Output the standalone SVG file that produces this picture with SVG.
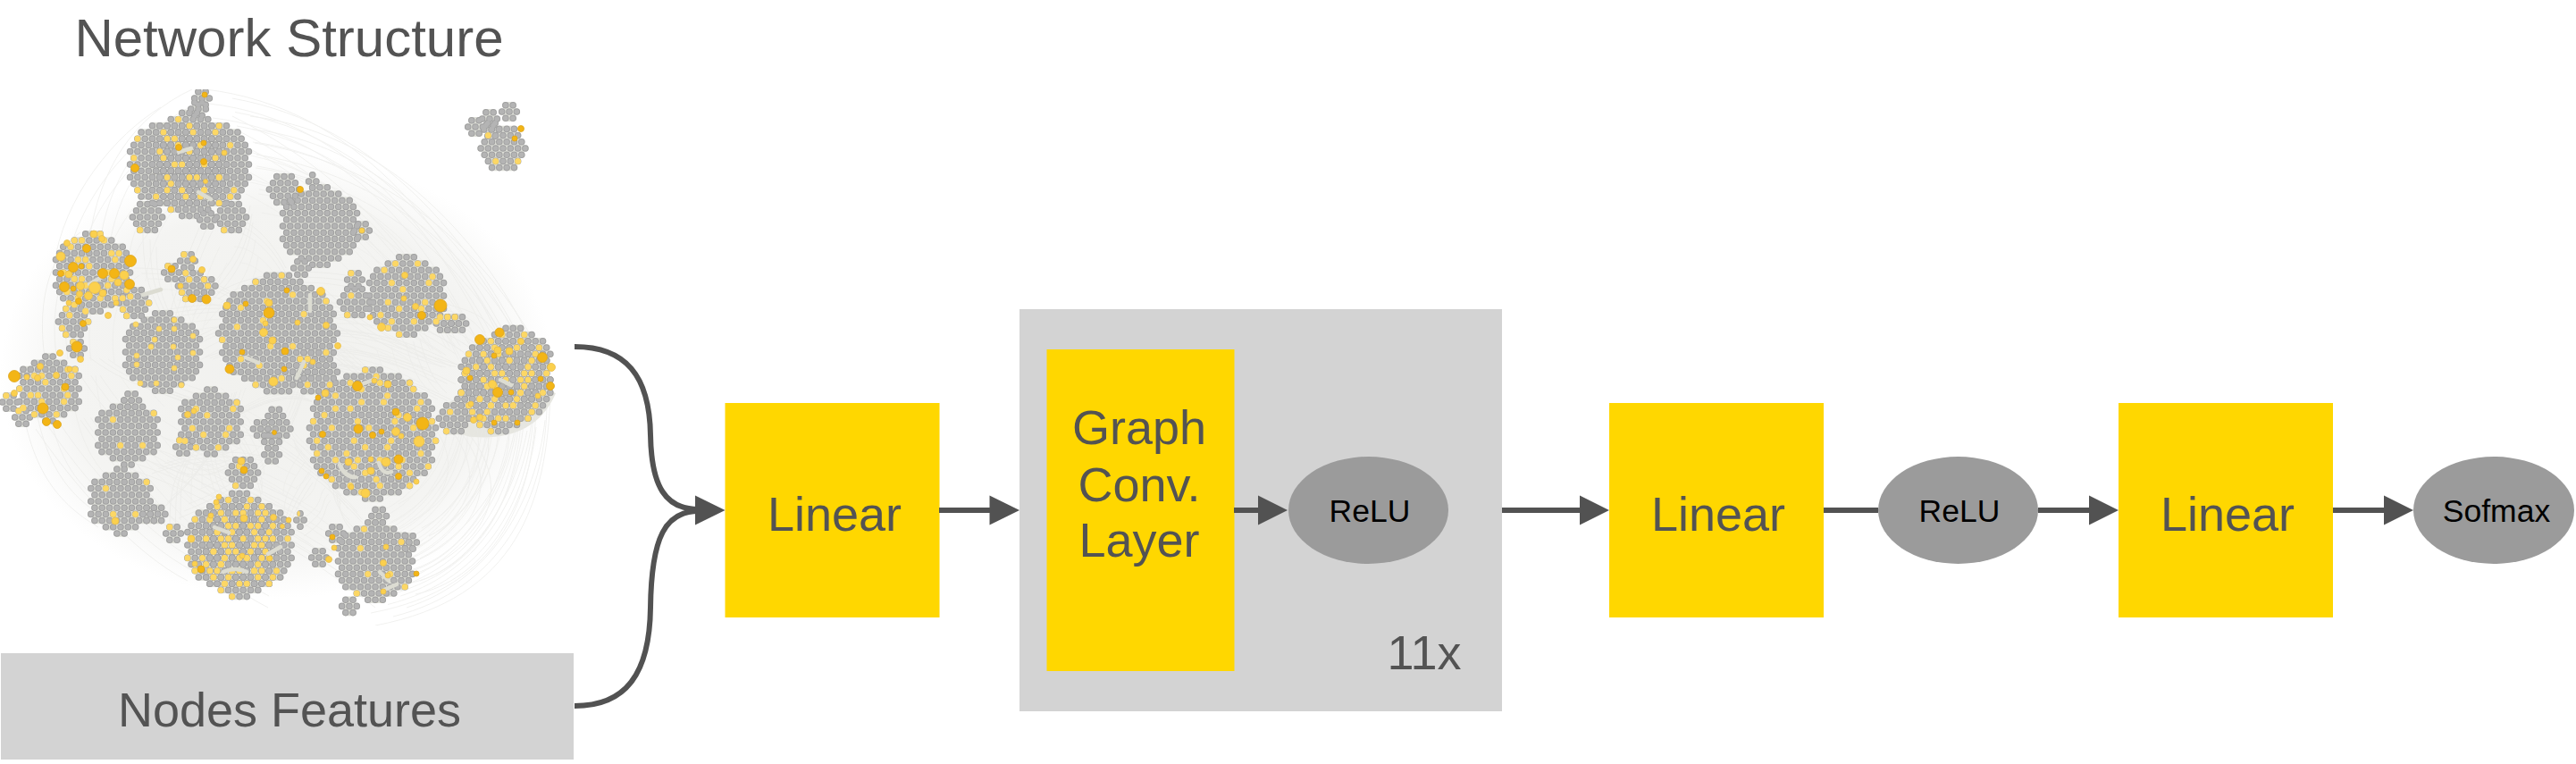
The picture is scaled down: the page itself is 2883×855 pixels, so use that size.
<svg xmlns="http://www.w3.org/2000/svg" width="2883" height="855" viewBox="0 0 2883 855">
<style>
text{font-family:"Liberation Sans",Arial,sans-serif;fill:#535353;text-anchor:middle}
.big{font-size:54px}
.small{font-size:35.5px;fill:#000}
.yellow{fill:#ffd700}
.grey{fill:#d3d3d3}
.oval{fill:#9b9b9b}
.wire{fill:none;stroke:#525252;stroke-width:6}
.head{fill:#525252}
.web{fill:none;stroke:#e8e8e5;stroke-width:1;opacity:.6}
.bg,.rim,.core,.y1,.y2,.y4{fill:none;stroke-linecap:round}
.bg{stroke:#dedfd8;stroke-width:7.4}
.rim{stroke:#a0a0a0;stroke-width:7.6;stroke-dasharray:0 8.3}
.core{stroke:#b4b4b4;stroke-width:5.6;stroke-dasharray:0 8.3}
.y1,.y2,.y4{stroke-width:7;stroke-dasharray:0 8.3}
.y1{stroke:url(#p1)}
.y2{stroke:url(#p2)}
.y4{stroke:url(#p4)}
.wig{fill:none;stroke:#dcdcd2;stroke-width:4.5;stroke-linecap:round}
.l{fill:#fbd04e;stroke:#e6bd50;stroke-width:.8}
.d{fill:#f3b515;stroke:#dca520;stroke-width:.8}
.s{fill:#fdd968;stroke:#e6c766;stroke-width:.7}
</style>
<defs>
<filter id="soft" x="0" y="0" width="1" height="1"><feGaussianBlur stdDeviation=".55"/></filter>
<radialGradient id="fade"><stop offset="0" stop-color="#f1f1ee"/><stop offset=".75" stop-color="#f4f4f2"/><stop offset="1" stop-color="#ffffff"/></radialGradient>
<pattern id="p1" width="132.8" height="115.2" patternUnits="userSpaceOnUse">
<path fill="none" stroke="#fcd765" stroke-width="8" stroke-linecap="round" d="M70.55,7.2h.01M16.6,14.4h.01M124.5,14.4h.01M53.95,21.6h.01M91.3,28.8h.01M33.2,28.8h.01M29.05,36h.01M112.05,36h.01M66.4,43.2h.01M4.15,50.4h.01M41.5,57.6h.01M107.9,57.6h.01M78.85,64.8h.01M16.6,72h.01M120.35,79.2h.01M53.95,79.2h.01M91.3,86.4h.01M29.05,93.6h.01M66.4,100.8h.01M116.2,100.8h.01M87.15,108h.01"/>
</pattern>
<pattern id="p4" width="132.8" height="115.2" patternUnits="userSpaceOnUse" patternTransform="translate(33.2,14.4)">
<path fill="none" stroke="#fcd765" stroke-width="8" stroke-linecap="round" d="M70.55,7.2h.01M16.6,14.4h.01M124.5,14.4h.01M53.95,21.6h.01M91.3,28.8h.01M33.2,28.8h.01M29.05,36h.01M112.05,36h.01M66.4,43.2h.01M4.15,50.4h.01M41.5,57.6h.01M107.9,57.6h.01M78.85,64.8h.01M16.6,72h.01M120.35,79.2h.01M53.95,79.2h.01M91.3,86.4h.01M29.05,93.6h.01M66.4,100.8h.01M116.2,100.8h.01M87.15,108h.01"/>
</pattern>
<pattern id="p2" width="132.8" height="115.2" patternUnits="userSpaceOnUse">
<path fill="none" stroke="#fcd765" stroke-width="8" stroke-linecap="round" d="M70.55,7.2h.01M16.6,14.4h.01M124.5,14.4h.01M53.95,21.6h.01M91.3,28.8h.01M33.2,28.8h.01M29.05,36h.01M112.05,36h.01M66.4,43.2h.01M4.15,50.4h.01M41.5,57.6h.01M107.9,57.6h.01M78.85,64.8h.01M16.6,72h.01M120.35,79.2h.01M53.95,79.2h.01M91.3,86.4h.01M29.05,93.6h.01M66.4,100.8h.01M116.2,100.8h.01M87.15,108h.01M20.75,7.2h.01M112.05,7.2h.01M83,14.4h.01M70.55,21.6h.01M103.75,21.6h.01M8.3,28.8h.01M116.2,28.8h.01M62.25,36h.01M41.5,43.2h.01M124.5,43.2h.01M87.15,50.4h.01M8.3,57.6h.01M66.4,57.6h.01M45.65,64.8h.01M120.35,64.8h.01M91.3,72h.01M12.45,79.2h.01M49.8,86.4h.01M107.9,86.4h.01M78.85,93.6h.01M24.9,100.8h.01M45.65,108h.01M128.65,108h.01"/>
</pattern>
<path id="d4" d="M-4.15,0h8.4M0,-7.2h.1M0,7.2h.1"/>
<path id="d8" d="M-8.3,0h16.7M-4.15,-7.2h8.4M-4.15,7.2h8.4"/>
<path id="d16" d="M-16.6,0h33.3M-12.45,-7.2h25M-12.45,7.2h25M-8.3,-14.4h16.7M-8.3,14.4h16.7"/>
<path id="d24" d="M-24.9,0h49.9M-20.75,-7.2h41.6M-20.75,7.2h41.6M-16.6,-14.4h33.3M-16.6,14.4h33.3M-12.45,-21.6h25M-12.45,21.6h25"/>
<path id="d32" d="M-33.2,0h66.5M-29.05,-7.2h58.2M-29.05,7.2h58.2M-33.2,-14.4h66.5M-33.2,14.4h66.5M-29.05,-21.6h58.2M-29.05,21.6h58.2M-16.6,-28.8h33.3M-16.6,28.8h33.3M-4.15,-36h8.4M-4.15,36h8.4"/>
<path id="d40" d="M-41.5,0h83.1M-37.35,-7.2h74.8M-37.35,7.2h74.8M-41.5,-14.4h83.1M-41.5,14.4h83.1M-37.35,-21.6h74.8M-37.35,21.6h74.8M-33.2,-28.8h66.5M-33.2,28.8h66.5M-20.75,-36h41.6M-20.75,36h41.6M-8.3,-43.2h16.7M-8.3,43.2h16.7"/>
<path id="d48" d="M-49.8,0h99.7M-45.65,-7.2h91.4M-45.65,7.2h91.4M-49.8,-14.4h99.7M-49.8,14.4h99.7M-45.65,-21.6h91.4M-45.65,21.6h91.4M-41.5,-28.8h83.1M-41.5,28.8h83.1M-37.35,-36h74.8M-37.35,36h74.8M-24.9,-43.2h49.9M-24.9,43.2h49.9"/>
<path id="d64" d="M-66.4,0h132.9M-62.25,-7.2h124.6M-62.25,7.2h124.6M-58.1,-14.4h116.3M-58.1,14.4h116.3M-62.25,-21.6h124.6M-62.25,21.6h124.6M-58.1,-28.8h116.3M-58.1,28.8h116.3M-53.95,-36h108M-53.95,36h108M-49.8,-43.2h99.7M-49.8,43.2h99.7M-37.35,-50.4h74.8M-37.35,50.4h74.8M-24.9,-57.6h49.9M-24.9,57.6h49.9M-12.45,-64.8h25M-12.45,64.8h25"/>
<path id="d72" d="M-66.4,0h132.9M-70.55,-7.2h141.2M-70.55,7.2h141.2M-66.4,-14.4h132.9M-66.4,14.4h132.9M-62.25,-21.6h124.6M-62.25,21.6h124.6M-66.4,-28.8h132.9M-66.4,28.8h132.9M-62.25,-36h124.6M-62.25,36h124.6M-58.1,-43.2h116.3M-58.1,43.2h116.3M-45.65,-50.4h91.4M-45.65,50.4h91.4M-41.5,-57.6h83.1M-41.5,57.6h83.1M-29.05,-64.8h58.2M-29.05,64.8h58.2M-8.3,-72h16.7M-8.3,72h16.7"/>
<g id="gp0">
<use href="#d40" x="358" y="253"/><use href="#d16" x="318" y="212"/><use href="#d8" x="405" y="258"/><use href="#d8" x="337" y="300"/><use href="#d4" x="349.7" y="203"/>
<use href="#d40" x="182" y="394"/>
</g>
<g id="gp1">
<use href="#d48" x="195.4" y="184"/><use href="#d48" x="228.6" y="184"/><use href="#d40" x="212" y="169.6"/><use href="#d40" x="212" y="198.4"/><use href="#d8" x="226" y="110"/><use href="#d8" x="222" y="122"/><use href="#d16" x="165" y="243"/><use href="#d16" x="259" y="243"/><use href="#d8" x="232" y="246"/>
<use href="#d24" x="563" y="166"/><use href="#d8" x="548" y="133"/><use href="#d8" x="570" y="125"/><use href="#d8" x="532" y="142"/><use href="#d8" x="550" y="145"/>
<use href="#d64" x="311" y="373"/><use href="#d24" x="352.5" y="416.2"/>
<use href="#d32" x="143" y="484"/><use href="#d8" x="147.15" y="448"/>
<use href="#d32" x="135" y="561"/><use href="#d8" x="168.2" y="575.4"/><use href="#d8" x="176.5" y="575.4"/>
<use href="#d40" x="420" y="628"/><use href="#d8" x="424.15" y="577.6"/><use href="#d8" x="390.95" y="678.4"/><use href="#d8" x="376" y="597"/><use href="#d8" x="357" y="624"/><use href="#d8" x="458" y="607"/>
<use href="#d8" x="300" y="480"/><use href="#d8" x="316.6" y="480"/><use href="#d8" x="308.3" y="465.6"/><use href="#d8" x="304.15" y="494.4"/><use href="#d8" x="304.15" y="508.8"/><use href="#d8" x="291.7" y="480"/>
</g>
<g id="gp2">
<use href="#d40" x="455" y="331"/><use href="#d16" x="397" y="338"/><use href="#d8" x="397" y="313"/><use href="#d8" x="505" y="362"/><use href="#d8" x="496.7" y="362"/><use href="#d8" x="513.3" y="362"/>
<use href="#d48" x="566" y="425"/><use href="#d40" x="557.7" y="439.4"/><use href="#d40" x="574.3" y="410.6"/><use href="#d16" x="507.9" y="468.2"/><use href="#d8" x="520.3" y="446.6"/>
<use href="#d72" x="417" y="486"/>
<use href="#d32" x="236" y="472"/><use href="#d8" x="205" y="500"/>
<use href="#d48" x="259.7" y="610"/><use href="#d48" x="276.3" y="610"/><use href="#d40" x="268" y="595.6"/><use href="#d40" x="268" y="624.4"/><use href="#d16" x="272" y="529"/><use href="#d8" x="194" y="597"/><use href="#d4" x="336" y="582"/>
</g>
<g id="gp3">
<use href="#d40" x="104" y="305"/><use href="#d16" x="150" y="339"/><use href="#d16" x="82" y="360"/>
<use href="#d32" x="55" y="435"/><use href="#d8" x="11" y="450"/><use href="#d8" x="25" y="467"/><use href="#d8" x="86" y="390"/>
<use href="#d16" x="216" y="320"/><use href="#d8" x="210" y="292"/><use href="#d8" x="192" y="305"/><use href="#d8" x="232.6" y="320"/>
</g>
<g id="all"><use href="#gp0"/><use href="#gp1"/><use href="#gp2"/><use href="#gp3"/></g>
<path id="webp" d="M520,480C590,560 520,620 470,640M590,482C575,560 530,630 470,650M600,478C590,570 540,650 465,665M610,470C600,560 550,650 455,680M570,484C570,540 520,600 470,625M545,482C555,530 520,580 480,600M612,455C610,560 560,660 440,690M616,440C612,560 580,670 420,700M505,470C460,500 400,380 320,370M510,450C450,420 400,400 260,400M510,430C450,400 400,380 250,390M515,410C440,370 360,350 230,400M520,395C440,340 340,300 180,400M525,385C470,300 400,200 260,130M555,370C500,260 400,120 230,100M580,375C530,280 430,140 260,110M600,395C560,300 450,150 280,130M615,415C570,320 470,190 285,160M100,270C110,190 150,130 215,100M60,300C70,220 130,150 180,120M50,400C40,330 60,280 90,260M20,420C30,520 60,560 110,590M40,480C80,540 150,620 210,650M90,470C140,540 220,640 300,680M110,480C150,510 250,560 380,640M130,520C200,540 320,600 420,680M180,440C260,470 350,520 410,590M220,440C270,480 300,560 290,560M260,440C240,500 220,540 180,570M340,440C320,500 300,540 200,580M200,510C250,540 280,550 340,580M150,300C240,300 300,340 340,420M170,350C260,330 340,340 420,420M240,330C300,290 420,300 470,340M290,380C350,340 460,330 540,390M280,230C270,300 230,320 210,350M320,300C300,260 270,240 250,240M230,240C210,280 200,320 190,350M160,260C160,310 170,330 180,350M100,400C140,430 180,440 210,450M90,420C110,450 120,460 130,470M180,520C200,530 230,540 260,520M230,510C240,560 250,580 270,560M350,540C330,570 320,590 320,610M380,560C380,580 390,590 400,600M500,340C530,350 540,350 560,380M470,380C480,420 490,430 500,440M360,320C420,380 480,400 520,410M240,480C290,450 320,440 350,450M330,500C340,520 360,530 390,570M170,530C200,520 240,510 290,520M190,600C190,560 190,540 210,510M340,600C370,580 360,570 370,560"/>
</defs>
<rect width="2883" height="855" fill="#ffffff"/>
<g id="network">
<g filter="url(#soft)">
<ellipse cx="310" cy="420" rx="310" ry="250" fill="url(#fade)"/>
<path fill="#e6e6e0" d="M503,450C497,470 505,487 530,489C570,492 605,480 622,440L560,420Z"/>
<g class="web">
<use href="#webp"/>
<use href="#webp" transform="translate(31,42) scale(.9)"/>
<use href="#webp" transform="translate(62,84) scale(.8)"/>
<use href="#webp" transform="translate(93,126) scale(.7)"/>
<use href="#webp" transform="translate(16,21) scale(.95)"/>
</g>
<use href="#all" class="bg"/>
<use href="#all" class="rim"/>
<use href="#all" class="core"/>
<use href="#gp1" class="y1"/>
<use href="#gp2" class="y2"/>
<use href="#gp3" class="y2"/>
<use href="#gp3" class="y4"/>
<path class="wig" d="M347,330v18M340,405l-8,18M275,400l14,6M380,520q6,14 18,14M424,518q4,14 14,10M400,432l20,-8M250,640q14,-6 26,0M240,590l16,6M300,620l14,-8M200,170l14,-4M222,215l14,8M425,640l10,10M430,660l14,-6M160,330l20,-6M100,318l14,-8M560,425l12,6"/>
<g class="s">
<circle cx="178" cy="368" r="3"/><circle cx="173" cy="380" r="3"/><circle cx="152" cy="363" r="3"/><circle cx="153" cy="398" r="3"/><circle cx="153" cy="408" r="3"/><circle cx="195" cy="358" r="3"/><circle cx="195" cy="368" r="3"/><circle cx="216" cy="376" r="3"/><circle cx="216" cy="395" r="3"/><circle cx="199" cy="400" r="3"/><circle cx="195" cy="412" r="3"/><circle cx="157" cy="429" r="3"/><circle cx="175" cy="429" r="3"/><circle cx="203" cy="431" r="3"/><circle cx="194" cy="388" r="3"/><circle cx="169" cy="388" r="3"/>
</g>
<g class="l">
<circle cx="617" cy="411" r="4.5"/><circle cx="551" cy="430" r="4.5"/><circle cx="522" cy="415" r="4"/><circle cx="570" cy="393" r="4"/><circle cx="557" cy="392" r="4"/><circle cx="583" cy="382" r="3.5"/><circle cx="602" cy="443" r="3"/><circle cx="530" cy="470" r="3.5"/><circle cx="537" cy="467" r="3.5"/><circle cx="527" cy="452" r="3"/>
<circle cx="469" cy="494" r="6"/><circle cx="432" cy="517" r="5"/><circle cx="443" cy="483" r="4.5"/><circle cx="456" cy="467" r="4.5"/><circle cx="364" cy="440" r="4"/><circle cx="409" cy="552" r="5"/><circle cx="390" cy="517" r="4"/><circle cx="415" cy="527" r="4"/><circle cx="434" cy="430" r="4"/><circle cx="419" cy="426" r="3"/><circle cx="393" cy="545" r="3"/><circle cx="466" cy="539" r="3"/><circle cx="449" cy="488" r="3"/><circle cx="415" cy="514" r="3"/>
<circle cx="301" cy="339" r="4"/><circle cx="295" cy="372" r="4.5"/><circle cx="305" cy="381" r="4"/><circle cx="306" cy="427" r="5"/><circle cx="254" cy="342" r="4"/><circle cx="359" cy="326" r="4.5"/><circle cx="365" cy="364" r="3.5"/><circle cx="333" cy="361" r="3"/><circle cx="378" cy="387" r="3.5"/><circle cx="350" cy="405" r="3"/><circle cx="297" cy="362" r="3"/>
<circle cx="465" cy="343" r="3.5"/><circle cx="427" cy="366" r="4.5"/><circle cx="453" cy="308" r="3.5"/><circle cx="414" cy="355" r="3"/><circle cx="452" cy="334" r="3"/>
<circle cx="68" cy="287" r="5"/><circle cx="77" cy="307" r="4"/><circle cx="106" cy="322" r="6.5"/><circle cx="90" cy="320" r="4.5"/><circle cx="139" cy="308" r="5"/><circle cx="132" cy="316" r="4"/><circle cx="105" cy="262" r="4"/><circle cx="99" cy="331" r="4.5"/><circle cx="115" cy="328" r="4"/><circle cx="89" cy="329" r="3.5"/><circle cx="77" cy="339" r="3"/><circle cx="121" cy="353" r="3.5"/><circle cx="130" cy="339" r="3"/><circle cx="75" cy="272" r="3.5"/><circle cx="114" cy="267" r="3.5"/>
<circle cx="42" cy="423" r="3.5"/><circle cx="63" cy="420" r="3.5"/><circle cx="90" cy="402" r="3.5"/><circle cx="67" cy="395" r="3.5"/><circle cx="45" cy="410" r="3.5"/><circle cx="16" cy="440" r="3.5"/><circle cx="30" cy="422" r="3"/><circle cx="78" cy="413" r="3"/>
<circle cx="202" cy="320" r="3"/><circle cx="226" cy="302" r="3.5"/><circle cx="216" cy="290" r="3.5"/><circle cx="251" cy="171" r="3"/><circle cx="230" cy="203" r="2.5"/><circle cx="210" cy="464" r="3.5"/><circle cx="217" cy="460" r="3"/><circle cx="270" cy="516" r="4"/>
<circle cx="214" cy="603" r="4"/><circle cx="273" cy="580" r="4"/><circle cx="306" cy="579" r="3.5"/><circle cx="129" cy="583" r="4"/><circle cx="374" cy="613" r="3"/><circle cx="368" cy="626" r="3.5"/><circle cx="429" cy="630" r="3.5"/><circle cx="434" cy="644" r="3"/><circle cx="432" cy="612" r="3"/><circle cx="429" cy="662" r="3"/><circle cx="271" cy="622" r="3"/><circle cx="218" cy="631" r="3"/><circle cx="302" cy="625" r="3"/><circle cx="323" cy="582" r="3"/><circle cx="316" cy="589" r="2.5"/><circle cx="242" cy="562" r="3"/><circle cx="245" cy="556" r="3"/><circle cx="236" cy="577" r="3"/><circle cx="405" cy="258" r="3"/>
</g>
<g class="d">
<circle cx="537" cy="380" r="5.5"/><circle cx="559" cy="372" r="5"/><circle cx="607" cy="400" r="5.5"/><circle cx="616" cy="432" r="4.5"/><circle cx="557" cy="439" r="5.5"/><circle cx="526" cy="423" r="3"/><circle cx="553" cy="398" r="3"/><circle cx="605" cy="424" r="3"/><circle cx="579" cy="473" r="3"/><circle cx="572" cy="439" r="3"/><circle cx="553" cy="473" r="3"/>
<circle cx="473" cy="474" r="7"/><circle cx="446" cy="514" r="5"/><circle cx="443" cy="461" r="4"/><circle cx="401" cy="480" r="5"/><circle cx="400" cy="432" r="5.5"/><circle cx="361" cy="486" r="3.5"/><circle cx="446" cy="533" r="3.5"/><circle cx="360" cy="527" r="3"/><circle cx="427" cy="483" r="3"/><circle cx="417" cy="487" r="3.5"/><circle cx="356" cy="445" r="3"/><circle cx="365" cy="533" r="3"/>
<circle cx="301" cy="350" r="6"/><circle cx="319" cy="393" r="4"/><circle cx="257" cy="413" r="5"/><circle cx="271" cy="394" r="3"/><circle cx="275" cy="340" r="3"/><circle cx="318" cy="413" r="3"/><circle cx="321" cy="325" r="3"/>
<circle cx="493" cy="342" r="7"/><circle cx="472" cy="353" r="4.5"/><circle cx="307" cy="484" r="2.5"/><circle cx="273" cy="526" r="4"/>
<circle cx="82" cy="299" r="5.5"/><circle cx="68" cy="306" r="3.5"/><circle cx="72" cy="321" r="5.5"/><circle cx="115" cy="306" r="5.5"/><circle cx="128" cy="306" r="5.5"/><circle cx="146" cy="292" r="6.5"/><circle cx="145" cy="318" r="5.5"/><circle cx="97" cy="278" r="4.5"/><circle cx="88" cy="337" r="3.5"/><circle cx="82" cy="323" r="3"/><circle cx="91" cy="298" r="3"/><circle cx="93" cy="362" r="3.5"/>
<circle cx="16" cy="421" r="6.5"/><circle cx="86" cy="388" r="6"/><circle cx="48" cy="457" r="6"/><circle cx="52" cy="472" r="4.5"/><circle cx="64" cy="475" r="4.5"/><circle cx="73" cy="433" r="4"/>
<circle cx="151" cy="188" r="4.5"/><circle cx="200" cy="165" r="3.5"/><circle cx="228" cy="181" r="3.5"/><circle cx="228" cy="160" r="3"/><circle cx="583" cy="144" r="3.5"/><circle cx="576" cy="155" r="3"/><circle cx="336" cy="212" r="3.5"/>
<circle cx="192" cy="301" r="4"/><circle cx="215" cy="334" r="4.5"/><circle cx="231" cy="335" r="5"/><circle cx="372" cy="601" r="3"/><circle cx="466" cy="642" r="3"/><circle cx="225" cy="637" r="4"/><circle cx="229" cy="106" r="3"/>
</g>
</g>
<text x="323.5" y="63" style="font-size:60px">Network Structure</text>
</g>
<g id="nodes-features"><rect class="grey" x="1" y="731" width="641" height="119"/><text class="big" x="324" y="813">Nodes Features</text></g>
<g id="linear-1"><rect class="yellow" x="811.5" y="451" width="240" height="240"/><text class="big" x="934" y="594">Linear</text></g>
<g id="repeat-block"><rect class="grey" x="1141" y="346" width="540" height="450"/><text class="big" x="1594" y="749">11x</text></g>
<g id="graph-conv"><rect class="yellow" x="1171.5" y="391" width="210" height="360"/><text class="big" x="1275" y="497">Graph</text><text class="big" x="1275" y="561">Conv.</text><text class="big" x="1275" y="623">Layer</text></g>
<g id="relu-1"><ellipse class="oval" cx="1531.5" cy="571" rx="89.5" ry="60"/><text class="small" x="1533" y="584">ReLU</text></g>
<g id="linear-2"><rect class="yellow" x="1801" y="451" width="240" height="240"/><text class="big" x="1923" y="594">Linear</text></g>
<g id="relu-2"><ellipse class="oval" cx="2191.5" cy="571" rx="89.5" ry="60"/><text class="small" x="2193" y="584">ReLU</text></g>
<g id="linear-3"><rect class="yellow" x="2371" y="451" width="240" height="240"/><text class="big" x="2493" y="594">Linear</text></g>
<g id="softmax"><ellipse class="oval" cx="2791" cy="571" rx="90" ry="60"/><text class="small" x="2794" y="584">Sofmax</text></g>
<g id="connectors">
<path class="wire" d="M643,388C700,388 727,420 728,487C729,545 745,570 782,570"/>
<path class="wire" d="M643,790C700,790 727,755 728,680C729,600 745,572 782,572"/>
<path class="wire" d="M1051,571H1110"/>
<path class="wire" d="M1381,571H1410"/>
<path class="wire" d="M1681,571H1770"/>
<path class="wire" d="M2041,571H2102"/>
<path class="wire" d="M2281,571H2340"/>
<path class="wire" d="M2611,571H2670"/>
<polygon class="head" points="778,554.5 811.5,571 778,587.5"/>
<polygon class="head" points="1107.5,554.5 1141,571 1107.5,587.5"/>
<polygon class="head" points="1408,554.5 1441,571 1408,587.5"/>
<polygon class="head" points="1768,554.5 1801,571 1768,587.5"/>
<polygon class="head" points="2338,554.5 2371,571 2338,587.5"/>
<polygon class="head" points="2668,554.5 2701,571 2668,587.5"/>
</g>
</svg>
